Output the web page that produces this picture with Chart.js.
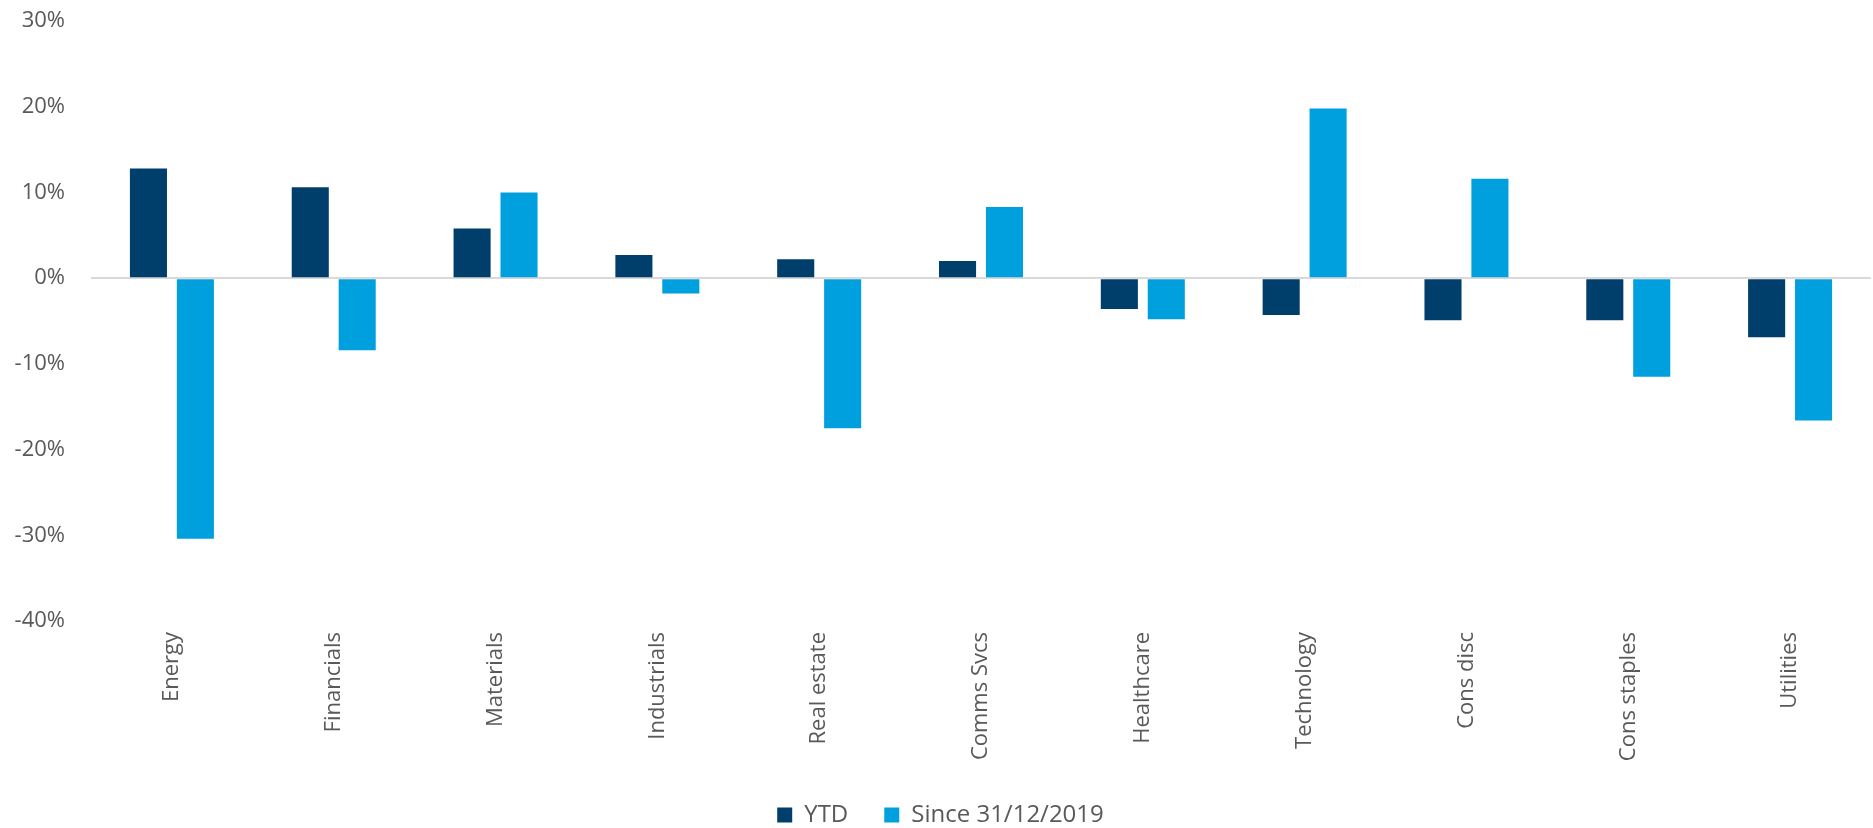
<!DOCTYPE html>
<html>
<head>
<meta charset="utf-8">
<script src="https://cdn.jsdelivr.net/npm/chart.js@4.4.1/dist/chart.umd.min.js"></script>
<style>
  html, body { margin: 0; padding: 0; background: #fff; }
  #wrap { width: 1873px; height: 828px; }
</style>
</head>
<body>
<div id="wrap"><canvas id="myChart"></canvas></div>
<script>
const sectors = ['Energy', 'Financials', 'Materials', 'Industrials', 'Real estate', 'Comms Svcs', 'Healthcare', 'Technology', 'Cons disc', 'Cons staples', 'Utilities'];
const ytd = [12.8, 10.6, 5.8, 2.7, 2.2, 2.0, -3.6, -4.3, -4.9, -4.9, -6.9];
const since2019 = [-30.4, -8.4, 10.0, -1.8, -17.5, 8.3, -4.8, 19.8, 11.6, -11.5, -16.6];
const seriesNames = ['YTD', 'Since 31/12/2019'];

const textColor = '#595959';
const font = { family: '"Open Sans", sans-serif', size: 22 };

const ctx = document.getElementById('myChart').getContext('2d');
const myChart = new Chart(ctx, {
    type: 'bar',
    data: {
        labels: sectors,
        datasets: [{
            label: seriesNames[0],
            data: ytd,
            backgroundColor: '#003F6B',
            categoryPercentage: 0.58,
            barPercentage: 0.79
        }, {
            label: seriesNames[1],
            data: since2019,
            backgroundColor: '#00A0DF',
            categoryPercentage: 0.58,
            barPercentage: 0.79
        }]
    },
    options: {
        responsive: true,
        maintainAspectRatio: false,
        animation: false,
        layout: {
            padding: { top: 21, right: 2, left: 10, bottom: -9 }
        },
        plugins: {
            tooltip: { enabled: false },
            legend: {
                position: 'bottom',
                labels: {
                    boxWidth: 15,
                    boxHeight: 15,
                    padding: 36,
                    color: textColor,
                    font: { family: '"Open Sans", sans-serif', size: 24 }
                }
            }
        },
        scales: {
            x: {
                grid: { display: false, drawTicks: false },
                border: { display: false },
                ticks: {
                    color: textColor,
                    font: font,
                    minRotation: 90,
                    maxRotation: 90,
                    padding: 11
                },
                afterFit: (scale) => { scale.height = 146; }
            },
            y: {
                min: -40,
                max: 30,
                border: { display: false },
                grid: {
                    drawTicks: true,
                    tickLength: 20,
                    tickColor: 'transparent',
                    lineWidth: 2,
                    color: (c) => c.tick && c.tick.value === 0 ? '#D9D9D9' : 'transparent'
                },
                ticks: {
                    stepSize: 10,
                    color: textColor,
                    font: font,
                    padding: 6,
                    callback: (v) => v + '%'
                },
                afterFit: (scale) => { scale.width = 81; }
            }
        }
    }
});
</script>
</body>
</html>
